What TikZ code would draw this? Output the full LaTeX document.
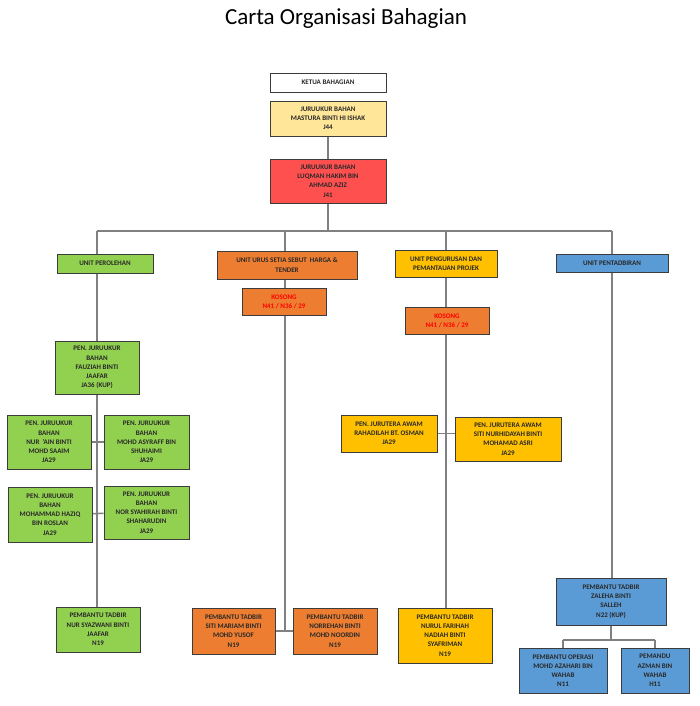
\documentclass[tikz,border=0pt]{standalone}
\usepackage{fontspec}
\setmainfont{Carlito}
\usetikzlibrary{backgrounds}

\definecolor{cPale}{RGB}{255,230,153}
\definecolor{cRed}{RGB}{255,80,80}
\definecolor{cGreen}{RGB}{146,208,80}
\definecolor{cOrange}{RGB}{237,125,49}
\definecolor{cGold}{RGB}{255,192,0}
\definecolor{cBlue}{RGB}{91,155,213}
\definecolor{cLine}{RGB}{128,128,128}
\definecolor{cEdge}{RGB}{60,60,60}
\definecolor{cInk}{RGB}{40,40,40}

\tikzset{every picture/.style={line width=0.75pt}}
\tikzset{
  orgbox/.style={draw=cEdge, line width=0.9pt, align=center, inner sep=1pt,
    text=cInk, font=\fontsize{7}{9.2}\selectfont\bfseries},
  link/.style={draw=cLine, line width=1.5pt},
  vacant/.style={text=red},
}

\begin{document}
\begin{tikzpicture}[x=1pt,y=1pt,yscale=-1,xscale=1]
	\useasboundingbox (0,0) rectangle (700,706);

	% Title
	\node (title) at (346,18) {\fontsize{23}{26}\selectfont Carta Organisasi Bahagian};

	%Shape: Rectangle - top
	\node[orgbox, fill=white, minimum width=116pt, minimum height=19pt] (ketua) at (328,82.5) {KETUA BAHAGIAN};
	\node[orgbox, fill=cPale, minimum width=116pt, minimum height=35pt] (mastura) at (328,118.5) {JURUUKUR BAHAN\\MASTURA BINTI HI ISHAK\\J44};
	\node[orgbox, fill=cRed, minimum width=116pt, minimum height=44pt] (luqman) at (328,181) {JURUUKUR BAHAN\\LUQMAN HAKIM BIN\\AHMAD AZIZ\\J41};

	%Shape: Rectangle - units
	\node[orgbox, fill=cGreen, minimum width=96pt, minimum height=19pt] (uPerolehan) at (105,263.5) {UNIT PEROLEHAN};
	\node[orgbox, fill=cOrange, minimum width=140pt, minimum height=28pt] (uUrus) at (287,265) {UNIT URUS SETIA SEBUT\ \ HARGA \&\\TENDER};
	\node[orgbox, fill=cGold, minimum width=102pt, minimum height=27pt] (uProjek) at (446,263.5) {UNIT PENGURUSAN DAN\\PEMANTAUAN PROJEK};
	\node[orgbox, fill=cBlue, minimum width=112pt, minimum height=18pt] (uTadbir) at (612,263) {UNIT PENTADBIRAN};

	%Shape: Rectangle - vacant posts
	\node[orgbox, vacant, fill=cOrange, minimum width=84pt, minimum height=27pt] (kosongA) at (284,301.5) {KOSONG\\N41 / N36 / 29};
	\node[orgbox, vacant, fill=cOrange, minimum width=84pt, minimum height=27pt] (kosongB) at (447,320.5) {KOSONG\\N41 / N36 / 29};

	%Shape: Rectangle - unit perolehan
	\node[orgbox, fill=cGreen, minimum width=84pt, minimum height=53pt] (fauziah) at (97,367.5) {PEN. JURUUKUR\\BAHAN\\FAUZIAH BINTI\\JAAFAR\\JA36 (KUP)};
	\node[orgbox, fill=cGreen, minimum width=84pt, minimum height=54pt] (nurain) at (49,442) {PEN. JURUUKUR\\BAHAN\\NUR \ 'AIN BINTI\\MOHD SAAIM\\JA29};
	\node[orgbox, fill=cGreen, minimum width=85pt, minimum height=54pt] (asyraff) at (146.5,442) {PEN. JURUUKUR\\BAHAN\\MOHD ASYRAFF BIN\\SHUHAIMI\\JA29};
	\node[orgbox, fill=cGreen, minimum width=84pt, minimum height=55pt] (haziq) at (50,514.5) {PEN. JURUUKUR\\BAHAN\\MOHAMMAD HAZIQ\\BIN ROSLAN\\JA29};
	\node[orgbox, fill=cGreen, minimum width=85pt, minimum height=53pt] (syahirah) at (146.5,512.5) {PEN. JURUUKUR\\BAHAN\\NOR SYAHIRAH BINTI\\SHAHARUDIN\\JA29};
	\node[orgbox, fill=cGreen, minimum width=84pt, minimum height=45pt] (syazwani) at (98,629.5) {PEMBANTU TADBIR\\NUR SYAZWANI BINTI\\JAAFAR\\N19};

	%Shape: Rectangle - unit urus setia
	\node[orgbox, fill=cOrange, minimum width=83pt, minimum height=46pt] (mariam) at (233.5,631) {PEMBANTU TADBIR\\SITI MARIAM BINTI\\MOHD YUSOF\\N19};
	\node[orgbox, fill=cOrange, minimum width=84pt, minimum height=46pt] (norrehan) at (335,631) {PEMBANTU TADBIR\\NORREHAN BINTI\\MOHD NOORDIN\\N19};

	%Shape: Rectangle - unit projek
	\node[orgbox, fill=cGold, minimum width=96pt, minimum height=37pt] (rahadilah) at (389,433.5) {PEN. JURUTERA AWAM\\RAHADILAH BT. OSMAN\\JA29};
	\node[orgbox, fill=cGold, minimum width=106pt, minimum height=44pt] (nurhidayah) at (508,439) {PEN. JURUTERA AWAM\\SITI NURHIDAYAH BINTI\\MOHAMAD ASRI\\JA29};
	\node[orgbox, fill=cGold, minimum width=94pt, minimum height=55pt] (farihah) at (445,635.5) {PEMBANTU TADBIR\\NURUL FARIHAH\\NADIAH BINTI\\SYAFRIMAN\\N19};

	%Shape: Rectangle - unit pentadbiran
	\node[orgbox, fill=cBlue, minimum width=110pt, minimum height=47pt] (zaleha) at (611,601.5) {PEMBANTU TADBIR\\ZALEHA BINTI\\SALLEH\\N22 (KUP)};
	\node[orgbox, fill=cBlue, minimum width=88pt, minimum height=45pt] (azahari) at (563,670.5) {PEMBANTU OPERASI\\MOHD AZAHARI BIN\\WAHAB\\N11};
	\node[orgbox, fill=cBlue, minimum width=68pt, minimum height=45pt] (azman) at (655,670.5) {PEMANDU\\AZMAN BIN\\WAHAB\\H11};

	% bus line coordinates
	\coordinate (busL) at (97,231);
	\coordinate (busR) at (612,231);
	\coordinate (colB) at (285,231);
	\coordinate (colC) at (446,231);
	\coordinate (subBus) at (611,640);

	%Straight Lines - connectors, behind the boxes
	\begin{scope}[on background layer]
	\draw[link] (mastura.south) -- (luqman.north);
	\draw[link] (luqman.south) -- (luqman.south |- busL);
	\draw[link] (busL) -- (busR);
	\draw[link] (busL) -- (busL |- syazwani.north);
	\draw[link] (nurain) -- (asyraff);
	\draw[link] (haziq) -- (syahirah);
	\draw[link] (colB) -- (colB |- mariam);
	\draw[link] (mariam) -- (norrehan);
	\draw[link] (colC) -- (colC |- farihah.north);
	\draw[link] (rahadilah.east) -- (rahadilah.east -| nurhidayah.west);
	\draw[link] (busR) -- (busR |- zaleha.north);
	\draw[link] (zaleha.south) -- (subBus);
	\draw[link] (azahari.north |- subBus) -- (azman.north |- subBus);
	\draw[link] (azahari.north |- subBus) -- (azahari.north);
	\draw[link] (azman.north |- subBus) -- (azman.north);
	\end{scope}

\end{tikzpicture}
\end{document}
